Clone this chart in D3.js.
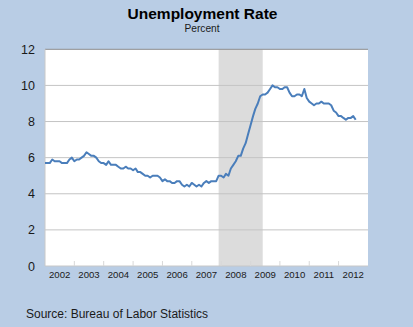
<!DOCTYPE html>
<html><head><meta charset="utf-8">
<script src="https://cdn.jsdelivr.net/npm/d3@7"></script>
<style>
html,body{margin:0;padding:0;background:#b9cde5;}
svg{display:block;font-family:"Liberation Sans",Arial,sans-serif;}
</style></head>
<body>
<svg id="c" width="413" height="327"></svg>
<script>
const title = "Unemployment Rate";
const subtitle = "Percent";
const source = "Source: Bureau of Labor Statistics";
const startMonth = "2002-01";
// Monthly unemployment rate, Jan 2002 - Aug 2012
const rates = [
  5.7,5.7,5.7,5.9,5.8,5.8,5.8,5.7,5.7,5.7,5.9,6.0,
  5.8,5.9,5.9,6.0,6.1,6.3,6.2,6.1,6.1,6.0,5.8,5.7,
  5.7,5.6,5.8,5.6,5.6,5.6,5.5,5.4,5.4,5.5,5.4,5.4,
  5.3,5.4,5.2,5.2,5.1,5.0,5.0,4.9,5.0,5.0,5.0,4.9,
  4.7,4.8,4.7,4.7,4.6,4.6,4.7,4.7,4.5,4.4,4.5,4.4,
  4.6,4.5,4.4,4.5,4.4,4.6,4.7,4.6,4.7,4.7,4.7,5.0,
  5.0,4.9,5.1,5.0,5.4,5.6,5.8,6.1,6.1,6.5,6.8,7.3,
  7.8,8.3,8.7,9.0,9.4,9.5,9.5,9.6,9.8,10.0,9.9,9.9,
  9.8,9.8,9.9,9.9,9.6,9.4,9.4,9.5,9.5,9.4,9.8,9.3,
  9.1,9.0,8.9,9.0,9.0,9.1,9.0,9.0,9.0,8.9,8.6,8.5,
  8.3,8.3,8.2,8.1,8.2,8.2,8.3,8.1
];
const recession = ["2007-12", "2009-06"];
const yTicks = [0,2,4,6,8,10,12];
const years = [2002,2003,2004,2005,2006,2007,2008,2009,2010,2011,2012];

const parse = d3.timeParse("%Y-%m");
const t0 = parse(startMonth);
const data = rates.map((v,i)=>({date:d3.timeMonth.offset(t0,i), value:v}));

const svg = d3.select("#c");
const L=45, R=368, T=49.3, B=266;
const x = d3.scaleTime().domain([new Date(2002,0,1), new Date(2013,0,1)]).range([L,R]);
const y = d3.scaleLinear().domain([0,12]).range([B,T]);

svg.append("rect").attr("x",L).attr("y",T).attr("width",R-L).attr("height",B-T).attr("fill","#ffffff");

svg.append("rect")
  .attr("x", x(parse(recession[0]))).attr("y", T)
  .attr("width", x(parse(recession[1]))-x(parse(recession[0])))
  .attr("height", B-T).attr("fill","#dcdcdc");

svg.append("g").selectAll("line").data(yTicks.filter(d=>d>0)).join("line")
  .attr("x1",L).attr("x2",R).attr("y1",d=>y(d)).attr("y2",d=>y(d))
  .attr("stroke",d=>d===12?"#8c8c8c":"#c4c4c4").attr("stroke-width",1);

svg.append("line").attr("x1",L).attr("x2",L).attr("y1",T).attr("y2",B).attr("stroke","#c8c8c8");
svg.append("line").attr("x1",L).attr("x2",R).attr("y1",B).attr("y2",B).attr("stroke","#c8c8c8");

svg.append("g").selectAll("line").data(years.slice(1)).join("line")
  .attr("x1",d=>x(new Date(d,0,1))).attr("x2",d=>x(new Date(d,0,1)))
  .attr("y1",B).attr("y2",B-5).attr("stroke","#d8d8d8");

svg.append("g").selectAll("text").data(yTicks).join("text")
  .attr("x",35).attr("y",d=>y(d)).attr("dy","0.36em")
  .attr("text-anchor","end").attr("font-size","12.5px").attr("fill","#1a1a1a")
  .text(d=>d);

svg.append("g").selectAll("text").data(years).join("text")
  .attr("x",d=>(x(new Date(d,0,1))+x(new Date(d+1,0,1)))/2).attr("y",277.8)
  .attr("text-anchor","middle").attr("font-size","9.6px").attr("fill","#1a1a1a")
  .text(d=>d);

svg.append("path").datum(data)
  .attr("d", d3.line().x(d=>x(d.date)).y(d=>y(d.value)))
  .attr("fill","none").attr("stroke","#4a7ebb").attr("stroke-width",2).attr("stroke-linejoin","round");

svg.append("text").attr("x",202.5).attr("y",18.5).attr("text-anchor","middle")
  .attr("font-size","15.5px").attr("font-weight","bold").attr("fill","#000").text(title);
svg.append("text").attr("x",202).attr("y",31.6).attr("text-anchor","middle")
  .attr("font-size","10.2px").attr("fill","#1a1a1a").text(subtitle);
svg.append("text").attr("x",26).attr("y",317.6)
  .attr("font-size","12px").attr("fill","#1a1a1a").text(source);
</script>
</body></html>
